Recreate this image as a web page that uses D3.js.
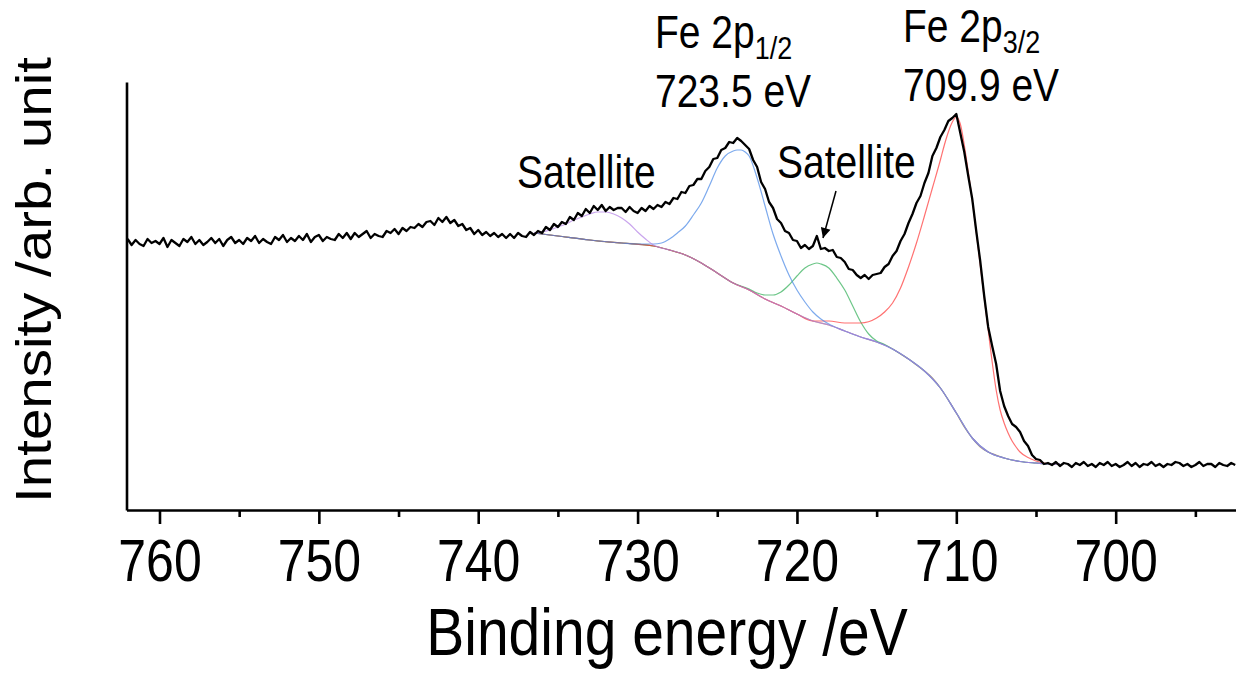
<!DOCTYPE html>
<html>
<head>
<meta charset="utf-8">
<script src="https://cdn.jsdelivr.net/npm/d3@7"></script>
<style>
  html, body { margin: 0; padding: 0; background: #fff; }
  svg { display: block; }
  text { font-family: "Liberation Sans", Arial, Helvetica, sans-serif; fill: #000; }
</style>
</head>
<body>
<svg id="chart" width="1236" height="673"></svg>
<script>
// ---------- DATA ----------
// measured spectrum: first energy, step (eV), intensities (arb. unit)
const spectrumStart = 762.0;
const spectrumStep = 0.25;
const spectrumIntensity = [
  271,265,270,266, 264,271,267,269, 266,272,263,270, 267,264,271,268,
  273,266,270,265, 268,272,267,271, 264,270,273,267, 270,266,272,269,
  274,267,271,268, 266,273,270,275, 268,272,269,274, 270,276,268,273,
  275,269,273,271, 270,276,272,277, 271,277,273,276, 279,272,276,274,
  273,279,277,281, 276,282,279,283, 282,286,283,288, 289,285,292,288,
  293,287,290,284, 286,280,282,276, 280,275,278,274, 277,273,276,272,
  276,272,277,274, 273,278,275,279, 277,283,280,286, 283,288,286,293,
  290,297,294,301, 297,304,300,305, 299,303,300,302, 302,298,303,299,
  297,302,299,304, 301,305,303,308, 306,312,311,318, 317,324,325,331,
  331,339,343,351, 352,360,362,368, 367,372,369,365, 361,350,343,328,
  321,308,302,291, 287,279,277,270, 269,262,265,261, 264,274,261,262,
  259,260,253,252, 248,241,240,235, 232,235,231,235, 236,237,243,246,
  254,259,269,276, 287,296,307,314, 327,337,354,362, 373,380,389,392,
  396,377,358,334, 311,279,249,214, 183,164,146,119, 104,94,86,83,
  78,69,64,55, 51,50,46,47, 45,48,44,47, 46,43,47,45,
  48,44,46,43, 47,45,48,44, 46,43,45,48, 44,47,43,46,
  45,48,44,46, 43,46,45,48, 47,44,46,43, 45,48,44,46,
  46,43,47,45, 44,47,45
];

// fitted curves: [binding energy (eV), intensity]
const background = [
  [736.5,277],[735,274],[734,272],[733,270],[732,268],[731,267],[730,266],[729,264],
  [728,260],[727,255],[726,247],[725,237],[724,227],[723,220],[722,211],[721,204],
  [720,196],[719,189],[718,185],[717,179],[716,173],[715,168],[714.5,165],[714,161],
  [713.5,156],[713,151],[712.5,145],[712,139],[711.5,132],[711,122],[710.5,110],
  [710,97],[709.5,83],[709,72],[708.5,63],[708,58],[707.5,55],[707,52],[706.5,50],
  [706,48.5],[705,47],[704,46],[703.5,46]
];
const peak2p12 = [
  [736.5,277],[735,274],[733,270],[731,267],[730,266],[729,266],[728.5,267],[728,271],
  [727.5,277],[727,284],[726.5,295],[726,307],[725.5,324],[725,342],[724.5,354],
  [724,359],[723.75,360],[723.5,360],[723.25,358],[723,354],[722.5,332],[722,304],
  [721.5,276],[721,254],[720.5,235],[720,220],[719.5,208],[719,198],[718.5,191],
  [718,186],[717,179],[716,173],[715,168],[714,161],[713,151],[712,139],[711,122],
  [710,97],[709,72],[708,58],[707,52],[706,48.5],[705,47],[704,46],[703.5,46]
];
const peak2p32 = [
  [736.5,277],[735,274],[733,270],[731,267],[729,264],[728,260],[727,255],[726,247],
  [725,237],[724,227],[723,220],[722,211],[721,204],[720,196],[719,189],[718,189],
  [717,187],[716,187],[715,192],[714.5,198],[714,207],[713.5,222],[713,243],
  [712.5,267],[712,294],[711.5,322],[711,350],[710.75,365],[710.5,378],[710.25,388],
  [710,393],[709.75,386],[709.5,365],[709.25,338],[709,310],[708.75,278],[708.5,245],
  [708.25,212],[708,180],[707.75,148],[707.5,120],[707.25,100],[707,87],[706.75,77],
  [706.5,69],[706.25,63],[706,58],[705.5,52.5],[705,49],[704.5,47],[704,46],[703.5,46]
];
const satellite1 = [
  [736.5,277],[736,278],[735.5,280],[735,283],[734.5,286],[734,290],[733.5,293],
  [733,296],[732.5,298],[732,298],[731.5,296],[731,292],[730.5,286],[730,278],
  [729.5,271],[729,265],[728.5,262],[728,260],[727,255],[726,247],[725,237],[724,227],
  [723,220],[722,211],[721,204],[720,196],[719,189],[718,185],[717,179],[716,173],
  [715,168],[714,161],[713,151],[712,139],[711,122],[710,97],[709,72],[708,58],
  [707,52],[706,48.5],[705,47],[704,46],[703.5,46]
];
const satellite2 = [
  [736.5,277],[735,274],[733,270],[731,267],[729,264],[728,260],[727,255],[726,247],
  [725,237],[724,227],[723,221],[722.5,217],[722,215],[721.5,215],[721,218],
  [720.5,225],[720,234],[719.5,242],[719,246],[718.75,247],[718.5,246],[718,242],
  [717.5,232],[717,220],[716.5,204],[716,188],[715.5,176],[715,169],[714.5,165.5],
  [714,161],[713,151],[712,139],[711,122],[710,97],[709,72],[708,58],[707,52],
  [706,48.5],[705,47],[704,46],[703.5,46]
];

const majorTicks = [760, 750, 740, 730, 720, 710, 700];
const minorTicks = [755, 745, 735, 725, 715, 705, 695];
const xDomain = [762.07, 692.45];
const yDomain = [0, 428];

const annotations = [
  { main: "Fe 2p", sub: "1/2", value: "723.5 eV", x: 655, y: 48 },
  { main: "Fe 2p", sub: "3/2", value: "709.9 eV", x: 903, y: 42 }
];
const satelliteLabels = [
  { text: "Satellite", x: 517, y: 188 },
  { text: "Satellite", x: 777, y: 178 }
];

// ---------- DRAW ----------
const STRETCH = 1.18;   // text in the reference is slightly taller than wide
const svg = d3.select("#chart");
const x = d3.scaleLinear().domain(xDomain).range([126.5, 1236]);
const y = d3.scaleLinear().domain(yDomain).range([510, 82]);

const spectrum = spectrumIntensity.map((v, i) => [spectrumStart - i * spectrumStep, v]);

const smooth = d3.line().x(d => x(d[0])).y(d => y(d[1])).curve(d3.curveMonotoneX);
const raw = d3.line().x(d => x(d[0])).y(d => y(d[1]));

const comps = [
  { data: background, color: "#b08850" },
  { data: satellite2, color: "#2fae55" },
  { data: peak2p32, color: "#ff3535" },
  { data: peak2p12, color: "#4686e6" },
  { data: satellite1, color: "#b27de6" }
];
comps.forEach(c => {
  svg.append("path").datum(c.data)
    .attr("d", smooth)
    .attr("fill", "none")
    .attr("stroke", c.color)
    .attr("stroke-width", 1.2)
    .attr("stroke-opacity", 0.7);
});

svg.append("path").datum(spectrum)
  .attr("d", raw)
  .attr("fill", "none")
  .attr("stroke", "#000")
  .attr("stroke-width", 2.3)
  .attr("stroke-linejoin", "round");

// axes
const gx = svg.append("g").attr("transform", "translate(0,510)");
gx.call(d3.axisBottom(x).tickValues(majorTicks).tickSize(14).tickPadding(15)
  .tickSizeOuter(0).tickFormat(d3.format("d")));
const gxm = svg.append("g").attr("transform", "translate(0,510)");
gxm.call(d3.axisBottom(x).tickValues(minorTicks).tickSize(7).tickSizeOuter(0).tickFormat(""));
gxm.select(".domain").remove();
[gx, gxm].forEach(g => {
  g.selectAll("path, line").attr("stroke", "#000").attr("stroke-width", 2.6);
});
gx.selectAll(".tick text")
  .attr("y", 0).attr("dy", "0.716em")
  .attr("transform", `translate(0,29) scale(1,${STRETCH})`)
  .style("font-family", "'Liberation Sans', Arial, sans-serif")
  .style("font-size", "50px")
  .attr("fill", "#000");

const gy = svg.append("g").attr("transform", "translate(126.5,0)");
gy.call(d3.axisLeft(y).tickValues([]).tickSizeOuter(0));
gy.selectAll("path").attr("stroke", "#000").attr("stroke-width", 2.6);

// axis titles
svg.append("text")
  .attr("transform", `translate(667,655) scale(1,${STRETCH})`)
  .attr("text-anchor", "middle")
  .style("font-size", "57px")
  .text("Binding energy /eV");

svg.append("text")
  .attr("transform", `translate(51,280) rotate(-90) scale(1.13,1)`)
  .attr("text-anchor", "middle")
  .style("font-size", "50px")
  .text("Intensity /arb. unit");

// annotations
annotations.forEach(a => {
  const t1 = svg.append("text")
    .attr("transform", `translate(${a.x},${a.y}) scale(1,${STRETCH})`)
    .style("font-size", "39px");
  t1.append("tspan").text(a.main);
  t1.append("tspan").attr("dy", 9).style("font-size", "27px").text(a.sub);
  svg.append("text")
    .attr("transform", `translate(${a.x},${a.y + 59}) scale(1,${STRETCH})`)
    .style("font-size", "39px").text(a.value);
});
satelliteLabels.forEach(s => {
  svg.append("text")
    .attr("transform", `translate(${s.x},${s.y}) scale(1,${STRETCH})`)
    .style("font-size", "39px").text(s.text);
});

// arrow
svg.append("defs").append("marker")
  .attr("id", "ah").attr("viewBox", "0 0 10 10")
  .attr("refX", 10).attr("refY", 5)
  .attr("markerWidth", 15).attr("markerHeight", 10)
  .attr("markerUnits", "userSpaceOnUse")
  .attr("orient", "auto")
  .append("path").attr("d", "M0,0 L10,5 L0,10 Z").attr("fill", "#000");
svg.append("line")
  .attr("x1", 836).attr("y1", 191).attr("x2", 823).attr("y2", 238)
  .attr("stroke", "#000").attr("stroke-width", 1.5)
  .attr("marker-end", "url(#ah)");
</script>
</body>
</html>
